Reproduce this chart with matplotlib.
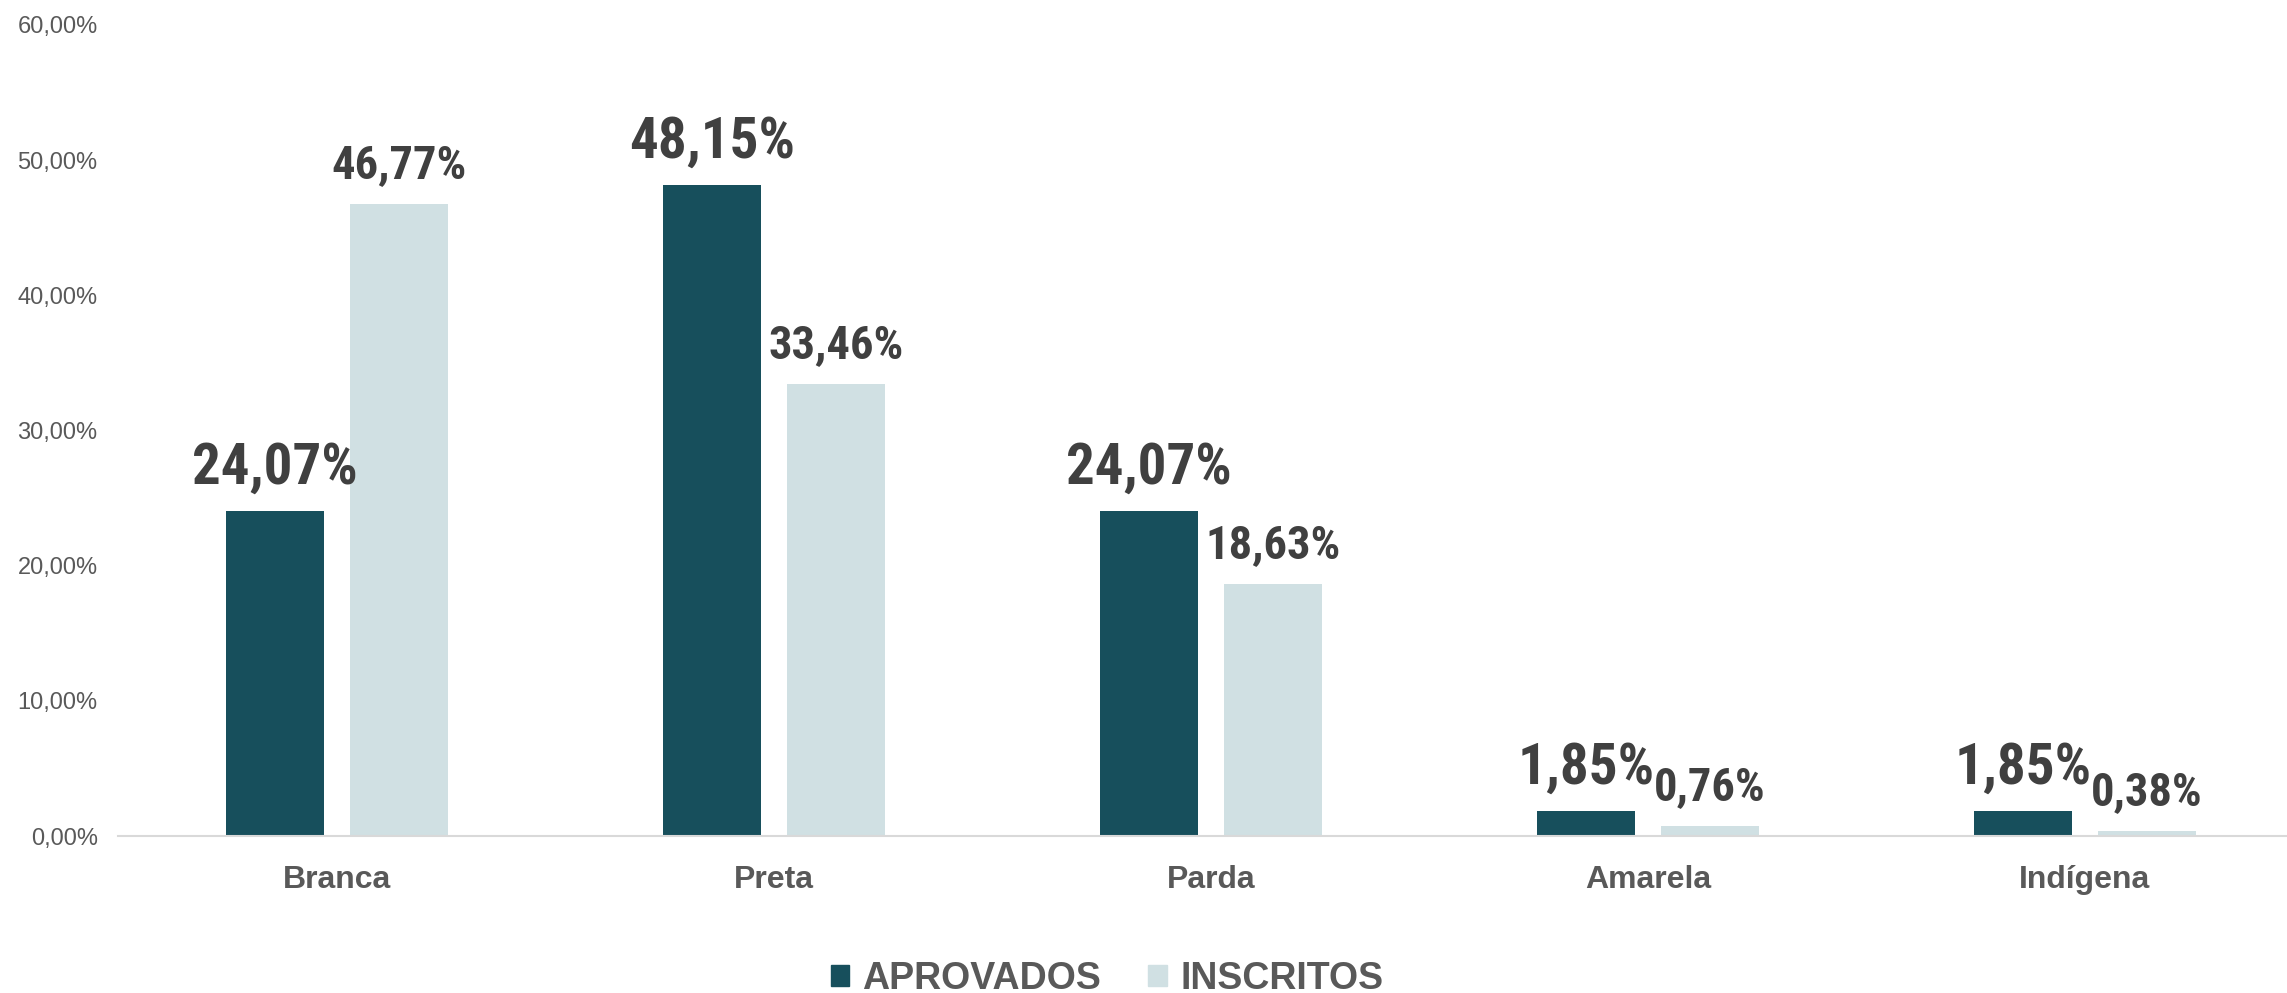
import numpy as np
import matplotlib.pyplot as plt
from matplotlib.patches import Patch

categorias = ["Branca", "Preta", "Parda", "Amarela", "Indígena"]
aprovados = [24.07, 48.15, 24.07, 1.85, 1.85]
inscritos = [46.77, 33.46, 18.63, 0.76, 0.38]
series = ["APROVADOS", "INSCRITOS"]

cor_escura = "#174F5C"
cor_clara = "#D0E0E3"
cinza = "#595959"
rotulo = "#404040"
fonte_rot = ["Roboto Condensed", "Noto Sans"]

plt.rcParams['font.family'] = ['Liberation Sans', 'DejaVu Sans']

fig = plt.figure(figsize=(22.87, 9.93), dpi=100)
# o eixo passa um pouco da borda direita, como no original
ax = fig.add_axes([0.0518, 0.158, 0.9554, 0.817])

x = np.arange(len(categorias))
w = 0.224
d = 0.142
b1 = ax.bar(x - d, aprovados, w, color=cor_escura)
b2 = ax.bar(x + d, inscritos, w, color=cor_clara)

def fmt(v):
    return f"{v:.2f}%".replace(".", ",")

for rect, v in zip(b1, aprovados):
    ax.annotate(fmt(v), (rect.get_x() + rect.get_width() / 2, v),
                xytext=(0, 11), textcoords="offset points", ha="center", va="bottom",
                fontsize=41, fontweight="bold", fontstretch="condensed",
                color=rotulo, family=fonte_rot)
for rect, v in zip(b2, inscritos):
    ax.annotate(fmt(v), (rect.get_x() + rect.get_width() / 2, v),
                xytext=(0, 12), textcoords="offset points", ha="center", va="bottom",
                fontsize=33.5, fontweight="bold", fontstretch="condensed",
                color=rotulo, family=fonte_rot)

ax.set_xlim(-0.5, len(categorias) - 0.5)
ax.set_ylim(0, 60)
ax.set_yticks(np.arange(0, 61, 10))
ax.set_yticklabels([f"{t},00%" for t in range(0, 61, 10)])
ax.tick_params(axis="y", length=0, pad=15, labelsize=17, labelcolor=cinza)
ax.set_xticks(x)
ax.set_xticklabels(categorias, fontweight="bold")
ax.tick_params(axis="x", length=0, pad=21, labelsize=23, labelcolor=cinza)

for s in ["top", "right", "left"]:
    ax.spines[s].set_visible(False)
ax.spines["bottom"].set_color("#D9D9D9")
ax.spines["bottom"].set_linewidth(1.5)

handles = [Patch(color=cor_escura), Patch(color=cor_clara)]
leg = fig.legend(handles, series, loc="center", bbox_to_anchor=(0.484, 0.014), ncol=2,
                 frameon=False, handlelength=0.5, handleheight=0.5, handletextpad=0.35,
                 columnspacing=1.25, prop={"size": 27, "weight": "bold"})
for t in leg.get_texts():
    t.set_color(cinza)

fig.savefig("out.png", dpi=100)
